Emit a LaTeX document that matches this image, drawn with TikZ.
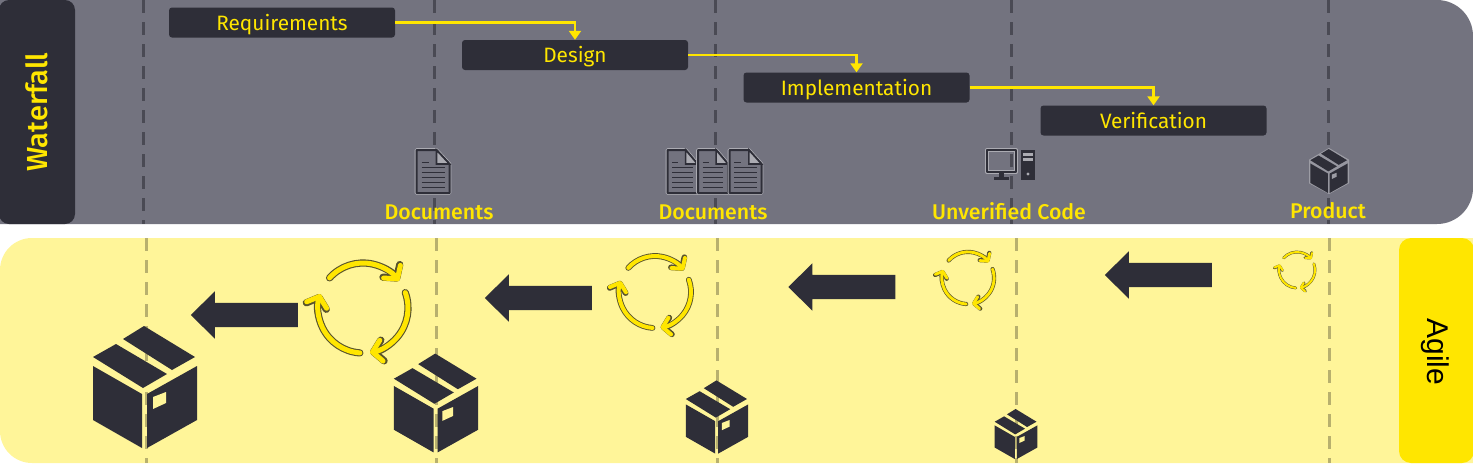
\documentclass[tikz,border=0pt]{standalone}
\usepackage{fontspec}
\setmainfont{Fira Sans}
\newfontfamily\medfont{Fira Sans Medium}
\newfontfamily\agilefont{Liberation Sans}
\usetikzlibrary{shapes.arrows, arrows.meta, positioning, calc}
\definecolor{bandgray}{HTML}{73737F}
\definecolor{inkdark}{HTML}{2E2E38}
\definecolor{eyyellow}{HTML}{FFE600}
\definecolor{paleyellow}{HTML}{FFF599}
\tikzstyle{task} = [draw=none, fill=inkdark, rounded corners=3pt, minimum width=226pt, minimum height=30pt, inner sep=0pt, text height=16pt, text depth=1pt, text=eyyellow, font=\fontsize{20.8}{22}\selectfont]
\tikzstyle{arrow} = [line width=2.4pt, draw=eyyellow, -{Triangle[length=9pt,width=12pt]}]
\tikzstyle{deliverable} = [text=eyyellow, inner sep=0pt, text height=15pt, text depth=0pt, font=\fontsize{21.3}{23}\medfont]
\tikzstyle{guideup} = [line width=3pt, draw=inkdark!60!bandgray, dash pattern=on 13pt off 9pt]
\tikzstyle{guidedown} = [line width=3pt, draw=black!28!paleyellow, dash pattern=on 13pt off 9pt]
\tikzstyle{backarrow} = [single arrow, fill=inkdark, shape border rotate=180, inner sep=12pt, minimum width=47pt, minimum height=107pt, single arrow head extend=11.5pt, single arrow tip angle=89, single arrow head indent=0pt]
% box icon, drawn around its centre
\newcommand{\packbox}[4][paleyellow]{
  \begin{scope}[shift={(#2,#3)}, scale=#4]
    \fill [inkdark] (-1,-61) -- (50,-30) -- (27,-17) -- (-22,-48) -- cycle;
    \fill [inkdark] (-29,-43) -- (22,-13) -- (-2,1) -- (-52,-30) -- cycle;
    \fill [inkdark] (-52,-21) -- (-3,7) -- (-3,61) -- (-52,33) -- cycle;
    \fill [inkdark] (2,7) -- (52,-21) -- (52,33) -- (2,61) -- cycle;
    \fill [#1] (8,10) -- (21,5) -- (21,16) -- (8,22) -- cycle;
  \end{scope}
}
% three arcs in a ring
\newcommand{\cycleicon}[3]{
  \begin{scope}[shift={(#1,#2)}]
    \foreach \from/\to in {-138/-37, -20/81, 94/198} {
      \draw [inkdark!80!eyyellow, line width=#3*7.2pt, line cap=round, line join=round, -{Straight Barb[length=#3*9pt,width=#3*21pt,round]}]
        ({45*#3*cos(\from)},{45*#3*sin(\from)}) arc [start angle=\from, end angle=\to, radius=45*#3];
      \draw [eyyellow, line width=#3*5pt, line cap=round, line join=round, -{Straight Barb[length=#3*9pt,width=#3*21pt,round]}]
        ({45*#3*cos(\from)},{45*#3*sin(\from)}) arc [start angle=\from, end angle=\to, radius=45*#3];
    }
  \end{scope}
}
% sheet icon, top left corner and width
\newcommand{\docicon}[2]{
  \begin{scope}[shift={(#1,150)}, xscale=#2/33]
    \draw [fill=bandgray, draw=bandgray!60!white, line width=3.6pt, line join=round] (0,0) -- (20,0) -- (33,14) -- (33,43) -- (0,43) -- cycle;
    \draw [fill=bandgray, draw=inkdark, line width=2pt, line join=round] (0,0) -- (20,0) -- (33,14) -- (33,43) -- (0,43) -- cycle;
    \draw [fill=bandgray!60!white, draw=inkdark, line width=1.6pt] (20,0) -- (20,14) -- (33,14) -- cycle;
    \foreach \rowy in {17,22,27,32,37} {
      \draw [inkdark, line width=1pt] (5,\rowy) -- (28,\rowy);
    }
    \draw [inkdark, line width=1pt] (5,12) -- (12,12);
  \end{scope}
}

\begin{document}
\begin{tikzpicture}[x=1pt, y=-1pt]
    \useasboundingbox (0,0) rectangle (1473,466);

    % Bands
    \fill [bandgray] (0,0) [rounded corners=36pt] -- (1473,0) -- (1473,224) [sharp corners] -- (0,224) -- cycle;
    \fill [paleyellow] (0,270) [rounded corners=32pt] -- (0,238) [sharp corners] -- (1473,238) -- (1473,463) [rounded corners=32pt] -- (0,463) [sharp corners] -- (0,430) -- cycle;

    % Guides
    \foreach \x in {143,434,715,1011,1328} {
      \draw [guideup] (\x,0) -- (\x,224);
    }
    \foreach \x in {146,436,717,1016,1329} {
      \draw [guidedown] (\x,238) -- (\x,463);
    }

    % Tabs
    \fill [inkdark, rounded corners=10pt] (-1,0) rectangle (75,224);
    \fill [eyyellow, rounded corners=12pt] (1399,238) rectangle (1474,463);
    \node (waterfall) [text=eyyellow, rotate=90, font=\fontsize{29}{31}\medfont] at (37,112) {Waterfall};
    \node (agile) [text=black, rotate=-90, font=\fontsize{30}{32}\agilefont] at (1435,352) {Agile};

    % Phases
    \node (req) [task] at (282,22.5) {Requirements};
    \node (des) [task] at (575,55) {Design};
    \node (imp) [task] at (856.5,87.5) {Implementation};
    \node (ver) [task] at (1153.5,120.5) {Verification};

    % Connections
    \draw [arrow] (req.east) -| (des.north);
    \draw [arrow] (des.east) -| (imp.north);
    \draw [arrow] (imp.east) -| (ver.north);

    % Deliverables
    \docicon{416.5}{33}
    \docicon{667.5}{30}
    \docicon{698}{30}
    \docicon{729.5}{32}
    \node (doca) [deliverable] at (439,212) {Documents};
    \node (docb) [deliverable] at (713,212) {Documents};
    \node (code) [deliverable] at (1009,212) {Unverified Code};
    \node (prod) [deliverable] at (1328,210.5) {Product};

    % Computer
    \draw [bandgray!60!white, line width=4pt, line join=round] (987,150) rectangle (1016,172);
    \draw [inkdark, line width=2.2pt, line join=round] (987,150) rectangle (1016,172);
    \fill [inkdark] (999,172) rectangle (1004,177);
    \fill [inkdark] (994,177) rectangle (1009,180);
    \fill [inkdark] (1021,150) rectangle (1035,180);
    \fill [bandgray!60!white] (1023,153) rectangle (1033,156);
    \fill [bandgray!60!white] (1023,158) rectangle (1033,161);
    \fill [bandgray!60!white] (1028,174) circle (1.7);

    % Product box
    \draw [fill=bandgray!75!white, draw=bandgray!70!white, line width=1pt, line join=round] (1329,148.5) -- (1348.5,160) -- (1348.5,183) -- (1329,193.5) -- (1309.5,183) -- (1309.5,160) -- cycle;
    \packbox[bandgray!70!white]{1329}{171}{0.36}

    % Agile increments
    \packbox{145}{387}{1}
    \packbox{436}{403}{0.81}
    \packbox{717}{417}{0.6}
    \packbox{1016}{434}{0.41}

    \cycleicon{363}{308}{1}
    \cycleicon{655}{292}{0.8}
    \cycleicon{968}{278}{0.58}
    \cycleicon{1297}{270}{0.4}

    \node (backa) [backarrow] at (250.5,315) {};
    \node (backb) [backarrow] at (544.5,298) {};
    \node (backc) [backarrow] at (848,287) {};
    \node (backd) [backarrow] at (1164.5,275) {};
\end{tikzpicture}
\end{document}
